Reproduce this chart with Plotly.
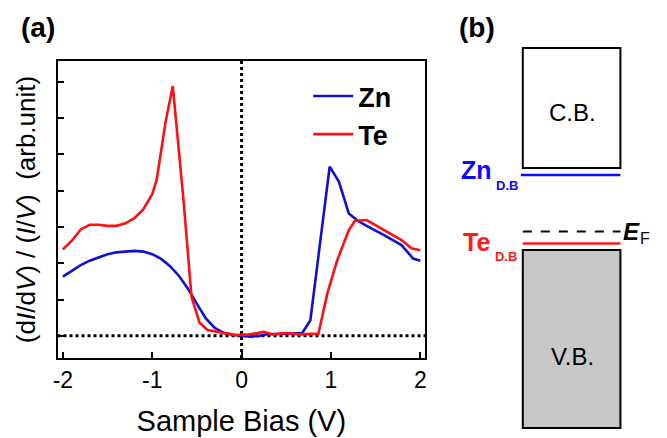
import plotly.graph_objects as go

W, H = 667, 438

# ---- data (panel a) ----
zn_bias = [-2.0, -1.9, -1.8, -1.7, -1.6, -1.5, -1.4, -1.3, -1.2, -1.1, -1.0, -0.9, -0.8,
           -0.7, -0.6, -0.5, -0.4, -0.3, -0.2, -0.1, 0.0, 0.1, 0.2, 0.3, 0.4, 0.5, 0.6,
           0.68, 0.77, 0.86, 0.986, 1.09, 1.2, 1.3, 1.42, 1.6, 1.79, 1.92, 2.0]
zn_signal = [1.63, 1.78, 1.95, 2.07, 2.17, 2.25, 2.30, 2.33, 2.34, 2.32, 2.25, 2.12, 1.92,
             1.65, 1.30, 0.88, 0.48, 0.22, 0.08, 0.03, 0.0, -0.02, 0.0, 0.05, 0.05, 0.06, 0.06,
             0.08, 0.43, 2.18, 4.66, 4.24, 3.37, 3.17, 3.0, 2.77, 2.5, 2.13, 2.07]

te_bias = [-2.0, -1.9, -1.8, -1.7, -1.6, -1.5, -1.4, -1.3, -1.2, -1.1, -1.0, -0.95, -0.9,
           -0.85, -0.77, -0.65, -0.56, -0.47, -0.38, -0.21, -0.06, 0.09, 0.25, 0.35, 0.49,
           0.64, 0.86, 0.96, 1.07, 1.2, 1.27, 1.4, 1.6, 1.79, 1.9, 2.0]
te_signal = [2.38, 2.62, 2.93, 3.06, 3.06, 3.03, 3.03, 3.10, 3.24, 3.48, 3.90, 4.30, 5.10,
             5.90, 6.88, 3.74, 1.07, 0.36, 0.16, 0.08, 0.02, 0.04, 0.11, 0.04, 0.08,
             0.04, 0.06, 1.17, 2.08, 2.91, 3.17, 3.19, 2.91, 2.64, 2.41, 2.36]

x_ticks = [-2, -1, 0, 1, 2]
x_tick_labels = ["-2", "-1", "0", "1", "2"]
y_ticks = [0, 1, 2, 3, 4, 5, 6, 7]

FONT = "Liberation Sans, Arial, sans-serif"
BLUE = "#1010d0"
RED = "#ff1010"


def px(x):
    return x / W


def py(y):
    return 1 - y / H


fig = go.Figure()
fig.add_trace(go.Scatter(x=zn_bias, y=zn_signal, mode="lines", name="<b>Zn</b>",
                         line=dict(color=BLUE, width=2.6)))
fig.add_trace(go.Scatter(x=te_bias, y=te_signal, mode="lines", name="<b>Te</b>",
                         line=dict(color=RED, width=2.6)))

axis_common = dict(showgrid=False, zeroline=False, showline=True, mirror=True,
                   linecolor="black", linewidth=2.2, ticks="inside", ticklen=6,
                   tickwidth=2, tickcolor="black")

fig.update_layout(
    width=W, height=H,
    margin=dict(l=0, r=0, t=0, b=0),
    paper_bgcolor="white", plot_bgcolor="white",
    font=dict(family=FONT, color="black"),
    xaxis=dict(domain=[px(53), px(424)], range=[-2.06, 2.055],
               tickvals=x_ticks, ticktext=x_tick_labels,
               tickfont=dict(size=23),
               title=dict(text="Sample Bias (V)", font=dict(size=29), standoff=19),
               **axis_common),
    yaxis=dict(domain=[py(358), py(61)], range=[-0.61, 7.57],
               tickvals=y_ticks, showticklabels=False,
               title=dict(text="(d<i>I</i>/d<i>V</i>) / (<i>I</i>/<i>V</i>)  (arb.unit)",
                          font=dict(size=26), standoff=12),
               **axis_common),
    showlegend=True,
    legend=dict(x=px(306), y=py(72), xanchor="left", yanchor="top",
                bgcolor="rgba(0,0,0,0)", font=dict(size=27, family=FONT),
                tracegroupgap=0, itemwidth=40),
)

# dotted reference lines (panel a)
fig.add_shape(type="line", xref="x domain", yref="y", x0=0, x1=1, y0=0, y1=0,
              line=dict(color="black", width=3, dash="dot"), layer="below")
fig.add_shape(type="line", xref="x", yref="y domain", x0=0, x1=0, y0=0, y1=1,
              line=dict(color="black", width=3, dash="dot"), layer="below")

# ---- panel b: band diagram (schematic) ----
box_l, box_r = 522.5, 621
cb_top, cb_bot = 48, 168
zn_level = 175
ef_level = 231.5
te_level = 243.5
vb_top, vb_bot = 250, 428

fig.add_shape(type="rect", xref="paper", yref="paper",
              x0=px(box_l), x1=px(box_r), y0=py(cb_bot), y1=py(cb_top),
              line=dict(color="black", width=2), fillcolor="white")
fig.add_shape(type="rect", xref="paper", yref="paper",
              x0=px(box_l), x1=px(box_r), y0=py(vb_bot), y1=py(vb_top),
              line=dict(color="black", width=2), fillcolor="#c8c8c8")
fig.add_shape(type="line", xref="paper", yref="paper",
              x0=px(520.5), x1=px(box_r), y0=py(zn_level), y1=py(zn_level),
              line=dict(color="#0a0aff", width=2.5))
fig.add_shape(type="line", xref="paper", yref="paper",
              x0=px(box_l), x1=px(box_r), y0=py(ef_level), y1=py(ef_level),
              line=dict(color="black", width=2, dash="dash"))
fig.add_shape(type="line", xref="paper", yref="paper",
              x0=px(box_l), x1=px(box_r), y0=py(te_level), y1=py(te_level),
              line=dict(color="#ff1a1a", width=2.5))


def ann(text, x, y, size, color="black", xanchor="center"):
    fig.add_annotation(text=text, xref="paper", yref="paper", x=px(x), y=py(y),
                       xanchor=xanchor, yanchor="middle", showarrow=False,
                       font=dict(size=size, color=color, family=FONT))


ann("<b>(a)</b>", 33, 27, 28)
ann("<b>(b)</b>", 476, 27, 28)
ann("C.B.", 573, 112, 24)
ann("V.B.", 573, 356, 24)
ann("<b>Zn</b>", 476, 170, 25, "#0a0aff")
ann("<b>D.B</b>", 493, 185, 13, "#0a0aff", xanchor="left")
ann("<b>Te</b>", 476, 242, 25, "#ff1a1a")
ann("<b>D.B</b>", 492, 256, 13, "#ff1a1a", xanchor="left")
ann("<b><i>E</i></b>", 632, 231, 24)
ann("F", 646, 238, 16)

fig.write_html("out.html")
